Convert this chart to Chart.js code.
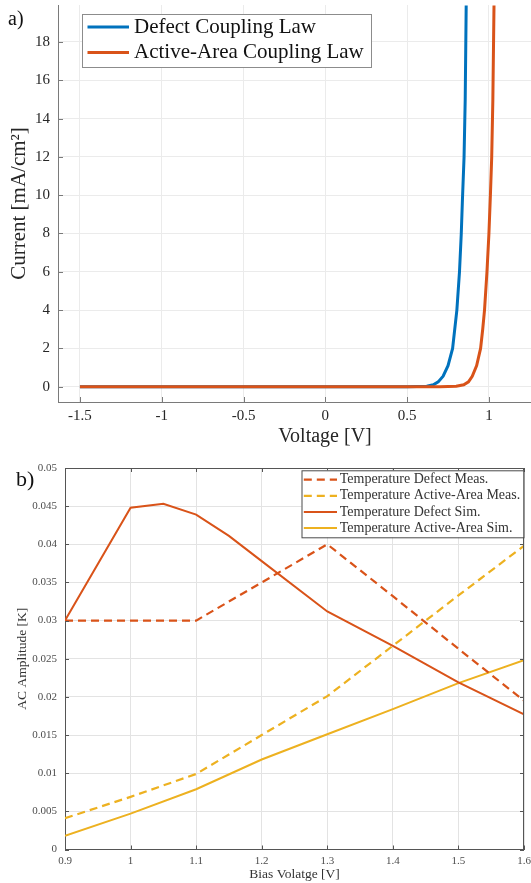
<!DOCTYPE html>
<html>
<head>
<meta charset="utf-8">
<script src="https://cdn.jsdelivr.net/npm/chart.js@4.4.1/dist/chart.umd.min.js"></script>
<style>
  html, body { margin: 0; padding: 0; background: #fff; }
  #page { position: relative; width: 531px; height: 883px; overflow: hidden; background: #fff; }
  canvas { position: absolute; left: 0; }
  .tag { position: absolute; font-family: 'Liberation Serif', serif; color: #111; line-height: 1; }
</style>
</head>
<body>
<div id="page">
  <canvas id="iv" width="592" height="450" style="top:0"></canvas>
  <canvas id="ac" width="531" height="433" style="top:450px"></canvas>
  <div class="tag" style="left:8px;top:8px;font-size:20px">a)</div>
  <div class="tag" style="left:16px;top:468px;font-size:22px">b)</div>
</div>
<script>
// --- panel a: I-V curves ---
const defectV = [-1.5, 0.5, 0.62, 0.66, 0.69, 0.72, 0.75, 0.778, 0.804, 0.82, 0.831, 0.838, 0.848, 0.855, 0.861];
const defectI = [0, 0, 0.02, 0.1, 0.25, 0.55, 1.1, 2, 4, 6, 8, 9.75, 12, 15, 19.9];
const activeV = [-1.5, 0.7, 0.8, 0.846, 0.875, 0.898, 0.925, 0.949, 0.962, 0.973, 0.988, 1.0, 1.009, 1.017, 1.024, 1.031];
const activeI = [0, 0, 0.02, 0.1, 0.25, 0.54, 1.1, 2, 3, 4, 6, 8, 10, 12, 15, 19.9];
const ivXTicks = [-1.5, -1, -0.5, 0, 0.5, 1, 1.5];
const ivYTicks = [0, 2, 4, 6, 8, 10, 12, 14, 16, 18];

// --- panel b: AC amplitude ---
const biasV = [0.9, 1.0, 1.1, 1.2, 1.3, 1.4, 1.5, 1.6];
const defectMeas = [0.03, 0.03, 0.03, 0.035, 0.04, 0.0332, 0.0263, 0.0195];
const activeMeas = [0.0041, 0.0069, 0.0099, 0.015, 0.0201, 0.0267, 0.0333, 0.0398];
const simV = [0.9, 1.0, 1.05, 1.1, 1.15, 1.2, 1.3, 1.4, 1.5, 1.6];
const defectSim = [0.03, 0.0448, 0.0453, 0.0439, 0.0411, 0.0378, 0.0312, 0.0267, 0.0219, 0.0177];
const activeSim = [0.0018, 0.0047, 0.0079, 0.0118, 0.0151, 0.0184, 0.0218, 0.0248];
const acXTicks = [0.9, 1, 1.1, 1.2, 1.3, 1.4, 1.5, 1.6];
const acYTicks = [0, 0.005, 0.01, 0.015, 0.02, 0.025, 0.03, 0.035, 0.04, 0.045, 0.05];

const BLUE = '#0072BD';
const ORANGE = '#D95319';
const YELLOW = '#EDB120';
const SERIF = "'Liberation Serif', 'DejaVu Serif', serif";

const pts = (xs, ys) => xs.map((x, i) => ({ x, y: ys[i] }));

/**
 * Boxed legend drawn inside the plot, MATLAB style.
 */
const boxLegend = {
  id: 'boxLegend',
  afterDraw(chart, args, o) {
    const { ctx } = chart;
    ctx.save();
    ctx.fillStyle = '#fff';
    ctx.fillRect(o.x, o.y, o.w, o.h);
    ctx.strokeStyle = o.border;
    ctx.lineWidth = 1;
    ctx.strokeRect(o.x + 0.5, o.y + 0.5, o.w, o.h);
    ctx.font = o.font;
    ctx.textBaseline = 'middle';
    chart.data.datasets.forEach((ds, i) => {
      const cy = o.y + o.firstRow + i * o.rowH;
      ctx.beginPath();
      ctx.strokeStyle = ds.borderColor;
      ctx.lineWidth = ds.borderWidth;
      ctx.setLineDash(ds.borderDash || []);
      ctx.moveTo(o.x + o.lineX0, cy);
      ctx.lineTo(o.x + o.lineX1, cy);
      ctx.stroke();
      ctx.setLineDash([]);
      ctx.fillStyle = o.color;
      ctx.fillText(ds.label, o.x + o.textX, cy);
    });
    ctx.restore();
  },
};

/**
 * Inward tick marks (and optional full box).
 */
const innerTicks = {
  id: 'innerTicks',
  afterDatasetsDraw(chart, args, o) {
    const { ctx, chartArea: a, scales: { x, y } } = chart;
    ctx.save();
    ctx.strokeStyle = o.color;
    ctx.lineWidth = 1;
    ctx.beginPath();
    x.ticks.forEach(t => {
      const px = Math.round(x.getPixelForValue(t.value)) + 0.5;
      ctx.moveTo(px, a.bottom);
      ctx.lineTo(px, a.bottom - o.len);
      if (o.box) { ctx.moveTo(px, a.top); ctx.lineTo(px, a.top + o.len); }
    });
    y.ticks.forEach(t => {
      const py = Math.round(y.getPixelForValue(t.value)) + 0.5;
      ctx.moveTo(a.left, py);
      ctx.lineTo(a.left + o.len, py);
      if (o.box) { ctx.moveTo(a.right, py); ctx.lineTo(a.right - o.len, py); }
    });
    if (o.box) {
      ctx.moveTo(a.left, a.top + 0.5);
      ctx.lineTo(a.right, a.top + 0.5);
      ctx.moveTo(a.right - 0.5, a.top);
      ctx.lineTo(a.right - 0.5, a.bottom);
    }
    ctx.stroke();
    ctx.restore();
  },
};

const fixTicks = list => axis => { axis.ticks = list.map(v => ({ value: v })); };

new Chart(document.getElementById('iv'), {
  type: 'line',
  data: {
    datasets: [
      // orange is plotted after blue in the original, so it sits on top
      { label: 'Defect Coupling Law', data: pts(defectV, defectI), borderColor: BLUE, borderWidth: 3, pointRadius: 0, tension: 0, order: 1 },
      { label: 'Active-Area Coupling Law', data: pts(activeV, activeI), borderColor: ORANGE, borderWidth: 3, pointRadius: 0, tension: 0, order: 0 },
    ],
  },
  plugins: [innerTicks, boxLegend],
  options: {
    responsive: false,
    animation: false,
    layout: { padding: { top: 5, right: 0, left: 0, bottom: 0 } },
    plugins: {
      legend: { display: false },
      tooltip: { enabled: false },
      innerTicks: { color: '#7a7a7a', len: 5, box: false },
      boxLegend: {
        x: 82, y: 14, w: 289, h: 53, firstRow: 13, rowH: 25.5,
        lineX0: 5.5, lineX1: 47, textX: 52,
        font: '21px ' + SERIF, color: '#111', border: '#8c8c8c',
      },
    },
    scales: {
      x: {
        type: 'linear', min: -1.634, max: 1.63,
        afterBuildTicks: fixTicks(ivXTicks),
        afterFit(s) { s.height = 48; s.paddingLeft = 0; s.paddingRight = 0; },
        grid: { color: '#ebebeb', drawTicks: false },
        border: { color: '#7a7a7a' },
        ticks: { autoSkip: false, maxRotation: 0, padding: 5, color: '#262626', font: { family: SERIF, size: 15 }, callback: v => String(v) },
        title: { display: true, text: 'Voltage [V]', color: '#262626', font: { family: SERIF, size: 20 }, padding: { top: 0, bottom: 1 } },
      },
      y: {
        type: 'linear', min: -0.8, max: 19.93,
        afterBuildTicks: fixTicks(ivYTicks),
        afterFit(s) { s.width = 58; s.paddingTop = 0; s.paddingBottom = 0; },
        grid: { color: '#ebebeb', drawTicks: false },
        border: { color: '#7a7a7a' },
        ticks: { autoSkip: false, padding: 8, color: '#262626', font: { family: SERIF, size: 15 }, callback: v => String(v) },
        title: { display: true, text: 'Current [mA/cm²]', color: '#262626', font: { family: SERIF, size: 21 }, padding: { top: 7, bottom: 0 } },
      },
    },
  },
});

new Chart(document.getElementById('ac'), {
  type: 'line',
  data: {
    datasets: [
      { label: 'Temperature Defect Meas.', data: pts(biasV, defectMeas), borderColor: ORANGE, borderWidth: 2.2, borderDash: [8, 5], pointRadius: 0, tension: 0 },
      { label: 'Temperature Active-Area Meas.', data: pts(biasV, activeMeas), borderColor: YELLOW, borderWidth: 2.2, borderDash: [8, 5], pointRadius: 0, tension: 0 },
      { label: 'Temperature Defect Sim.', data: pts(simV, defectSim), borderColor: ORANGE, borderWidth: 2, pointRadius: 0, tension: 0 },
      { label: 'Temperature Active-Area Sim.', data: pts(biasV, activeSim), borderColor: YELLOW, borderWidth: 2, pointRadius: 0, tension: 0 },
    ],
  },
  plugins: [innerTicks, boxLegend],
  options: {
    responsive: false,
    animation: false,
    layout: { padding: { top: 18, right: 7, left: 0, bottom: 0 } },
    plugins: {
      legend: { display: false },
      tooltip: { enabled: false },
      innerTicks: { color: '#555', len: 4, box: true },
      boxLegend: {
        x: 301.5, y: 20.3, w: 222, h: 67, firstRow: 9.4, rowH: 16.1,
        lineX0: 2.3, lineX1: 35.5, textX: 38.2,
        font: '14px ' + SERIF, color: '#333', border: '#4a4a4a',
      },
    },
    scales: {
      x: {
        type: 'linear', min: 0.9, max: 1.6,
        afterBuildTicks: fixTicks(acXTicks),
        afterFit(s) { s.height = 33.5; s.paddingLeft = 0; s.paddingRight = 0; },
        grid: { color: '#e3e3e3', drawTicks: false },
        border: { color: '#555' },
        ticks: { autoSkip: false, maxRotation: 0, padding: 5.5, color: '#4d4d4d', font: { family: SERIF, size: 11 }, callback: v => String(v) },
        title: { display: true, text: 'Bias Volatge [V]', color: '#333', font: { family: SERIF, size: 13.5 }, padding: { top: 0, bottom: 0.5 } },
      },
      y: {
        type: 'linear', min: 0, max: 0.05,
        afterBuildTicks: fixTicks(acYTicks),
        afterFit(s) { s.width = 65; s.paddingTop = 0; s.paddingBottom = 0; },
        grid: { color: '#e3e3e3', drawTicks: false },
        border: { color: '#555' },
        ticks: { autoSkip: false, padding: 8, color: '#4d4d4d', font: { family: SERIF, size: 11 }, callback: v => String(v) },
        title: { display: true, text: 'AC Amplitude [K]', color: '#333', font: { family: SERIF, size: 13.5 }, padding: { top: 14, bottom: 0 } },
      },
    },
  },
});
</script>
</body>
</html>
